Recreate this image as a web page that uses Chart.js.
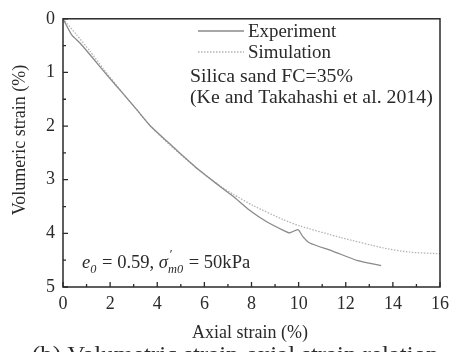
<!DOCTYPE html>
<html lang="en">
<head>
    <meta charset="UTF-8">
    <title>Volumetric strain - axial strain</title>
    <script src="https://cdn.jsdelivr.net/npm/chart.js"></script>
    <style>
        body {
            margin: 0;
            background-color: #ffffff;
        }
        canvas {
            display: block;
        }
    </style>
</head>
<body>
    <canvas id="strainChart" width="455" height="352"></canvas>

    <script>
        // Experiment (solid) - axial strain vs volumetric strain
        const expAxial = [0, 0.37, 0.72, 1.28, 1.85, 2.56, 3.12, 3.69, 4.4, 4.53, 4.7, 5.8, 6.65, 7.22, 7.92, 8.63, 9.33, 9.62, 9.97, 10.18, 10.47, 11.44, 12.51, 13.5];
        const expVol = [0, 0.30, 0.45, 0.74, 1.04, 1.40, 1.69, 1.99, 2.28, 2.33, 2.40, 2.83, 3.12, 3.31, 3.57, 3.78, 3.94, 3.99, 3.93, 4.06, 4.18, 4.33, 4.51, 4.6];

        // Simulation (dotted)
        const simAxial = [0, 0.58, 1.14, 1.71, 2.56, 3.12, 3.69, 4.53, 5.8, 6.65, 7.22, 8.06, 9.33, 10.04, 11.81, 13.58, 14.7, 16];
        const simVol = [0, 0.30, 0.60, 0.93, 1.40, 1.69, 1.99, 2.35, 2.83, 3.11, 3.27, 3.48, 3.74, 3.86, 4.08, 4.27, 4.35, 4.38];

        // Labels
        const seriesNames = ['Experiment', 'Simulation'];
        const noteLines = ['Silica sand FC=35%', '(Ke and Takahashi et al. 2014)'];
        const xTitle = 'Axial strain (%)';
        const yTitle = 'Volumeric strain (%)';
        const caption = '(b) Volumetric strain-axial strain relation';

        const serif = '"Liberation Serif", "DejaVu Serif", serif';
        const textColor = '#2a2a2a';
        const expColor = '#8a8a8a';
        const simColor = '#b4b4b4';

        const toPoints = (xs, ys) => xs.map((x, i) => ({ x: x, y: ys[i] }));

        // the scanned figure is a bit wider than it is tall, so stretch text sideways
        function wideText(ctx, text, x, y, sx) {
            ctx.save();
            ctx.translate(x, y);
            ctx.scale(sx, 1);
            ctx.fillText(text, 0, 0);
            ctx.restore();
            return ctx.measureText(text).width * sx;
        }

        // Frame, inward ticks, legend and labels drawn on top
        const decorations = {
            id: 'decorations',
            afterDraw(chart) {
                const ctx = chart.ctx;
                const area = chart.chartArea;
                const xs = chart.scales.x;
                const ys = chart.scales.y;
                ctx.save();

                // frame
                ctx.strokeStyle = '#2a2a2a';
                ctx.lineWidth = 1.5;
                ctx.strokeRect(area.left, area.top, area.right - area.left, area.bottom - area.top);

                // inward ticks
                ctx.lineWidth = 1.3;
                ctx.beginPath();
                for (let v = 0; v <= 16; v++) {
                    const px = xs.getPixelForValue(v);
                    const len = v % 2 === 0 ? 5 : 3;
                    ctx.moveTo(px, area.bottom);
                    ctx.lineTo(px, area.bottom - len);
                }
                for (let v = 0; v <= 5; v += 0.5) {
                    const py = ys.getPixelForValue(v);
                    const len = Number.isInteger(v) ? 5 : 3;
                    ctx.moveTo(area.left, py);
                    ctx.lineTo(area.left + len, py);
                }
                ctx.stroke();

                // legend
                ctx.lineWidth = 1.3;
                ctx.strokeStyle = expColor;
                ctx.setLineDash([]);
                ctx.beginPath();
                ctx.moveTo(198, 31);
                ctx.lineTo(244, 31);
                ctx.stroke();
                ctx.strokeStyle = simColor;
                ctx.setLineDash([1.5, 1.5]);
                ctx.beginPath();
                ctx.moveTo(198, 52);
                ctx.lineTo(244, 52);
                ctx.stroke();
                ctx.setLineDash([]);

                ctx.fillStyle = textColor;
                ctx.font = '18px ' + serif;
                ctx.textAlign = 'left';
                ctx.textBaseline = 'middle';
                wideText(ctx, seriesNames[0], 248, 32, 1.05);
                wideText(ctx, seriesNames[1], 248, 53, 1.05);
                wideText(ctx, noteLines[0], 190, 77, 1.1);
                wideText(ctx, noteLines[1], 190, 98, 1.1);

                // e0 = 0.59, sigma'm0 = 50kPa
                let x = 82;
                const base = 268;
                const sx = 1.03;
                ctx.textBaseline = 'alphabetic';
                ctx.font = 'italic 18px ' + serif;
                x += wideText(ctx, 'e', x, base, sx);
                ctx.font = 'italic 12px ' + serif;
                x += wideText(ctx, '0', x, base + 5, sx) + 1;
                ctx.font = '18px ' + serif;
                x += wideText(ctx, ' = 0.59, ', x, base, sx);
                ctx.font = 'italic 18px ' + serif;
                const sw = wideText(ctx, '\u03c3', x, base, sx);
                ctx.font = 'italic 12px ' + serif;
                wideText(ctx, '\u2032', x + sw + 1, base - 10, sx);
                x += sw;
                x += wideText(ctx, 'm0', x, base + 5, sx) + 1;
                ctx.font = '18px ' + serif;
                wideText(ctx, ' = 50kPa', x, base, sx);

                // axis titles
                ctx.textAlign = 'center';
                ctx.textBaseline = 'middle';
                ctx.fillText(xTitle, 250, 333);
                ctx.save();
                ctx.translate(20, 140);
                ctx.rotate(-Math.PI / 2);
                ctx.fillText(yTitle, 0, 0);
                ctx.restore();

                // caption, cut off by the bottom edge
                ctx.textAlign = 'left';
                ctx.textBaseline = 'alphabetic';
                ctx.font = '23px ' + serif;
                wideText(ctx, caption, 32, 362, 1.08);

                ctx.restore();
            }
        };

        const strainCtx = document.getElementById('strainChart').getContext('2d');

        const strainChart = new Chart(strainCtx, {
            type: 'scatter',
            data: {
                datasets: [{
                    label: seriesNames[0],
                    data: toPoints(expAxial, expVol),
                    showLine: true,
                    borderColor: expColor,
                    borderWidth: 1.3,
                    pointRadius: 0,
                    tension: 0.2
                }, {
                    label: seriesNames[1],
                    data: toPoints(simAxial, simVol),
                    showLine: true,
                    borderColor: simColor,
                    borderWidth: 1.3,
                    borderDash: [1.5, 1.5],
                    pointRadius: 0,
                    tension: 0.2
                }]
            },
            options: {
                responsive: false,
                animation: false,
                devicePixelRatio: 1,
                layout: {
                    padding: { left: 0, top: 12, right: 14, bottom: 0 }
                },
                plugins: {
                    legend: { display: false },
                    tooltip: { enabled: false }
                },
                scales: {
                    x: {
                        type: 'linear',
                        min: 0,
                        max: 16,
                        grid: { display: false, drawTicks: false },
                        border: { display: false },
                        ticks: {
                            stepSize: 2,
                            padding: 6,
                            color: textColor,
                            font: { family: serif, size: 18 }
                        },
                        afterFit(scale) { scale.height = 65; }
                    },
                    y: {
                        type: 'linear',
                        min: 0,
                        max: 5,
                        reverse: true,
                        grid: { display: false, drawTicks: false },
                        border: { display: false },
                        ticks: {
                            stepSize: 1,
                            padding: 8,
                            color: textColor,
                            font: { family: serif, size: 18 }
                        },
                        afterFit(scale) { scale.width = 63; }
                    }
                }
            },
            plugins: [decorations]
        });
    </script>
</body>
</html>
